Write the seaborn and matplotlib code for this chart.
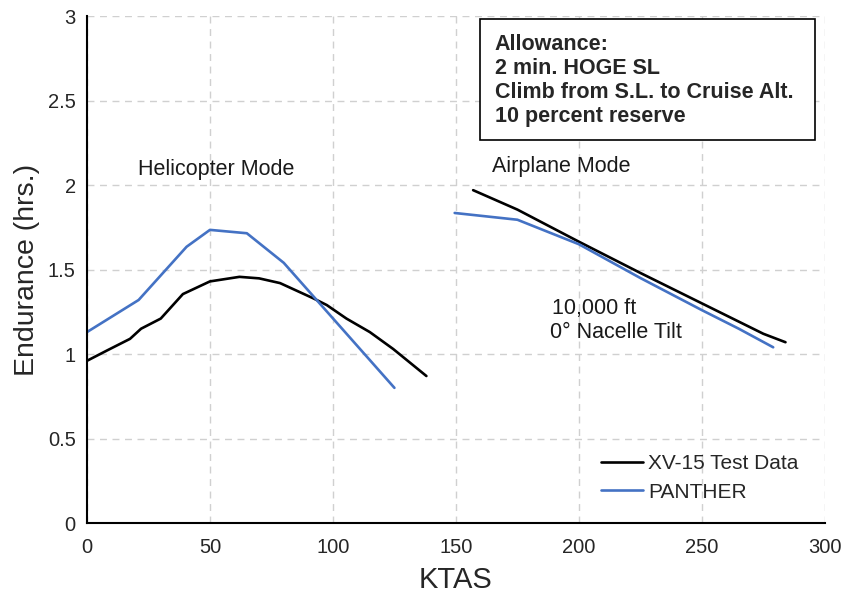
import matplotlib
matplotlib.use("Agg")
import matplotlib.pyplot as plt
from matplotlib.patches import Rectangle
import seaborn as sns
import pandas as pd

# Helicopter mode
heli_xv15_ktas = [0, 8, 17.5, 22, 30, 39, 50, 62, 70, 78.5, 92, 97.5, 105.5, 115, 124.5, 138]
heli_xv15_end = [0.96, 1.02, 1.09, 1.15, 1.21, 1.355, 1.43, 1.457, 1.448, 1.42, 1.33, 1.29, 1.21, 1.13, 1.03, 0.87]
heli_panther_ktas = [0, 21, 40.5, 50, 65, 80, 125]
heli_panther_end = [1.13, 1.32, 1.635, 1.735, 1.715, 1.54, 0.80]

# Airplane mode
air_xv15_ktas = [157, 175, 200, 225, 250, 275, 284]
air_xv15_end = [1.97, 1.855, 1.665, 1.48, 1.30, 1.12, 1.07]
air_panther_ktas = [149.5, 175, 200, 225, 250, 265, 279]
air_panther_end = [1.835, 1.795, 1.65, 1.45, 1.26, 1.15, 1.04]

series_names = ["XV-15 Test Data", "PANTHER"]
colors = {"XV-15 Test Data": "#000000", "PANTHER": "#4472C4"}

x_ticks = [0, 50, 100, 150, 200, 250, 300]
y_ticks = [0, 0.5, 1, 1.5, 2, 2.5, 3]
y_tick_labels = ["0", "0.5", "1", "1.5", "2", "2.5", "3"]

rows = []
for k, e in zip(heli_xv15_ktas, heli_xv15_end):
    rows.append((k, e, "XV-15 Test Data", "heli"))
for k, e in zip(heli_panther_ktas, heli_panther_end):
    rows.append((k, e, "PANTHER", "heli"))
for k, e in zip(air_xv15_ktas, air_xv15_end):
    rows.append((k, e, "XV-15 Test Data", "air"))
for k, e in zip(air_panther_ktas, air_panther_end):
    rows.append((k, e, "PANTHER", "air"))
df = pd.DataFrame(rows, columns=["KTAS", "Endurance", "series", "mode"])

sns.set_style("white")
plt.rcParams["font.family"] = ["Liberation Sans", "DejaVu Sans"]

fig = plt.figure(figsize=(8.46, 5.98), dpi=100)
ax = fig.add_axes([0.1028, 0.1254, 0.8722, 0.8476])

sns.lineplot(data=df, x="KTAS", y="Endurance", hue="series", units="mode",
             estimator=None, sort=False, palette=colors, hue_order=series_names,
             linewidth=1.9, ax=ax)

ax.set_xlim(0, 300)
ax.set_ylim(0, 3)
ax.set_xticks(x_ticks)
ax.set_xticklabels([str(t) for t in x_ticks])
ax.set_yticks(y_ticks)
ax.set_yticklabels(y_tick_labels)
ax.tick_params(axis="both", length=0, labelsize=14.5, pad=8)
ax.tick_params(axis="x", pad=11)
for lbl in ax.get_xticklabels() + ax.get_yticklabels():
    lbl.set_color("#262626")

ax.grid(True, linestyle=(0, (5, 4)), color="#d0d0d0", linewidth=1)
ax.set_axisbelow(True)
for side in ["top", "right"]:
    ax.spines[side].set_visible(False)
for side in ["left", "bottom"]:
    ax.spines[side].set_color("black")
    ax.spines[side].set_linewidth(1.5)

ax.set_xlabel("KTAS", fontsize=21, labelpad=6)
ax.set_ylabel("Endurance (hrs.)", fontsize=20.5, labelpad=6)

ax.text(52.4, 2.09, "Helicopter Mode", ha="center", va="center", fontsize=15.5, color="#1a1a1a")
ax.text(192.9, 2.11, "Airplane Mode", ha="center", va="center", fontsize=15.5, color="#1a1a1a")
ax.text(189, 1.27, "10,000 ft", ha="left", va="center", fontsize=15.5, color="#1a1a1a")
ax.text(188.2, 1.125, "0° Nacelle Tilt", ha="left", va="center", fontsize=15.5, color="#1a1a1a")

ax.add_patch(Rectangle((0.5325, 0.7554), 0.4539, 0.2386, transform=ax.transAxes,
                       facecolor="white", edgecolor="black", linewidth=1.2,
                       zorder=5, clip_on=False))
ax.text(0.5528, 0.965,
        "Allowance:\n2 min. HOGE SL\nClimb from S.L. to Cruise Alt.\n10 percent reserve",
        transform=ax.transAxes, ha="left", va="top", fontsize=15.5, fontweight="bold",
        linespacing=1.2, zorder=6)

leg = ax.legend(loc="lower right", bbox_to_anchor=(0.99, 0.005), frameon=False,
                fontsize=15, handlelength=2.0, handletextpad=0.25, labelspacing=0.45)
leg.set_title(None)

fig.savefig("out.png", dpi=100)
